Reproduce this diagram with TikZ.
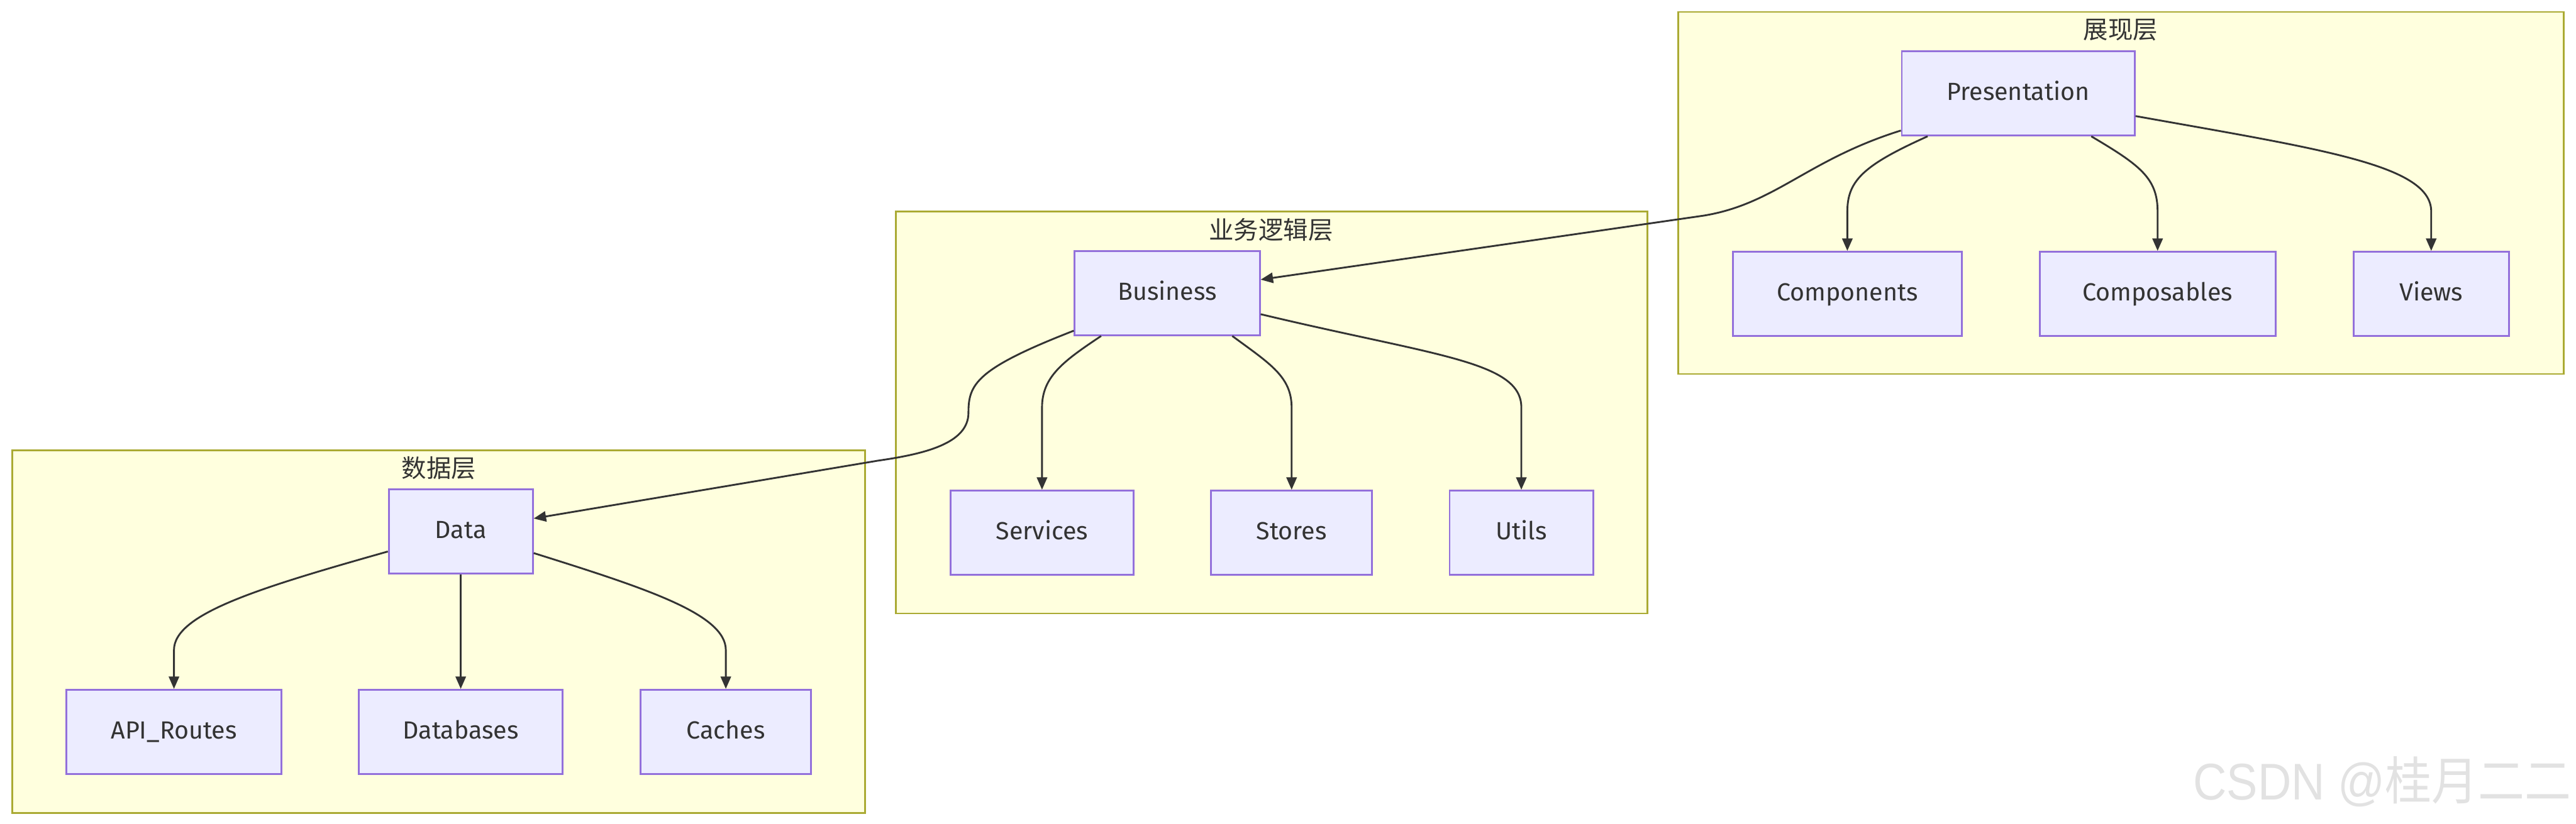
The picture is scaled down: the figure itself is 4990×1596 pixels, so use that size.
\documentclass[tikz,border=0pt]{standalone}
\usepackage{fontspec}
\setmainfont{Fira Sans}
\newfontfamily\cjk{Noto Sans CJK SC}
\newfontfamily\wmfont{Liberation Sans}
\usetikzlibrary{arrows.meta,calc}
\definecolor{sgfill}{HTML}{FFFFDE}
\definecolor{sgdraw}{HTML}{AAAA33}
\definecolor{nfill}{HTML}{ECECFF}
\definecolor{ndraw}{HTML}{9370DB}
\definecolor{ink}{HTML}{333333}
\definecolor{wm}{HTML}{E2E2E2}
\begin{document}
\begin{tikzpicture}[x=0.2pt,y=-0.2pt,
  layer/.style={draw=sgdraw,fill=sgfill,line width=0.65pt},
  box/.style={draw=ndraw,fill=nfill,line width=0.7pt,minimum height=32.6pt,inner sep=0pt,text height=6.6pt,text depth=1.3pt,text=ink,font=\fontsize{9.6pt}{11pt}\selectfont},
  ttl/.style={text=ink,font=\cjk\fontsize{9.6pt}{11pt}\selectfont,inner sep=0pt},
  link/.style={draw=ink,line width=0.7pt,-{Triangle[length=4.8pt,width=4pt]}},
]
\useasboundingbox (0,0) rectangle (4990,1596);
\fill[white] (0,0) rectangle (4990,1596);

% layers
\draw[layer] (3251,23) rectangle (4966,725);
\node[ttl] (t1) at (4108,58) {展现层};
\draw[layer] (1735,410) rectangle (3191,1189);
\node[ttl] (t2) at (2462,445) {业务逻辑层};
\draw[layer] (24,873) rectangle (1676,1576);
\node[ttl] (t3) at (850,907) {数据层};

% nodes
\node[box,minimum width=90.2pt] (pres) at (3909.5,181) {Presentation};
\node[box,minimum width=88.6pt] (comp) at (3578.5,569.5) {Components};
\node[box,minimum width=91.4pt] (compo) at (4179.5,569.5) {Composables};
\node[box,minimum width=60.2pt] (views) at (4709.5,569.5) {Views};

\node[box,minimum width=71.7pt] (bus) at (2261,568) {Business};
\node[box,minimum width=71pt] (serv) at (2018.5,1032.5) {Services};
\node[box,minimum width=62.4pt] (stores) at (2502,1032.5) {Stores};
\node[box,minimum width=55.6pt] (utils) at (2947,1032.5) {Utils};

\node[box,minimum width=55.8pt] (data) at (892.5,1030) {Data};
\node[box,minimum width=83.2pt] (api) at (337,1418.5) {API\_Routes};
\node[box,minimum width=79pt] (db) at (892.5,1418.5) {Databases};
\node[box,minimum width=66pt] (cache) at (1406,1418.5) {Caches};

% edges
\draw[link] ($(pres.south)+(-175.5,0)$) .. controls (3610,320) and (3578.5,350) .. (3578.5,410) -- (comp.north);
\draw[link] ($(pres.south)+(141.5,0)$) .. controls (4145,320) and (4179.5,345) .. (4179.5,410) -- (compo.north);
\draw[link] ($(pres.east)+(0,44)$) .. controls (4500,290) and (4709.5,320) .. (4709.5,410) -- (views.north);
\draw[link] ($(pres.west)+(0,72)$) .. controls (3500,310) and (3440,395) .. (3300,418) -- ($(bus.east)+(0,-26)$);

\draw[link] ($(bus.south)+(-128,0)$) .. controls (2060,700) and (2018.5,730) .. (2018.5,790) -- (serv.north);
\draw[link] ($(bus.south)+(126,0)$) .. controls (2460,705) and (2502,730) .. (2502,790) -- (stores.north);
\draw[link] ($(bus.east)+(0,41)$) .. controls (2780,690) and (2947,700) .. (2947,790) -- (utils.north);
\draw[link] ($(bus.west)+(0,73)$) .. controls (1890,715) and (1876,745) .. (1876,800) .. controls (1876,860) and (1790,880) .. (1700,893) -- ($(data.east)+(0,-25)$);

\draw[link] ($(data.west)+(0,39)$) .. controls (500,1140) and (337,1190) .. (337,1260) -- (api.north);
\draw[link] (data.south) -- (db.north);
\draw[link] ($(data.east)+(0,42)$) .. controls (1250,1140) and (1406,1190) .. (1406,1260) -- (cache.north);

% watermark
\node[anchor=base east,text=wm,inner sep=0pt,xscale=0.9,font=\wmfont\fontsize{20pt}{22pt}\selectfont] (wmark) at (4981,1550) {CSDN @{\cjk 桂月二二}};
\end{tikzpicture}
\end{document}
